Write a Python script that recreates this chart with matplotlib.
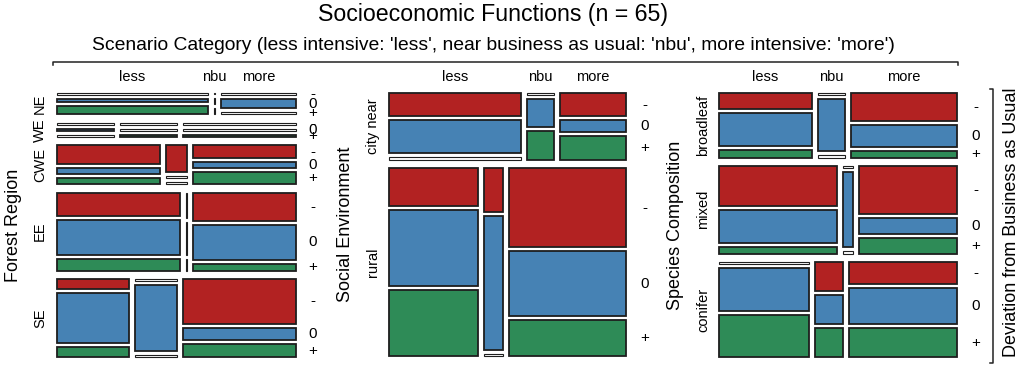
import numpy as np
import matplotlib
matplotlib.use("Agg")
import matplotlib.pyplot as plt
from matplotlib.patches import Rectangle

plt.rcParams['font.family'] = ['Liberation Sans', 'DejaVu Sans']

# ---------------- data ----------------
levels = ['-', '0', '+']
scenarios = ['less', 'nbu', 'more']

# counts per row x scenario (less, nbu, more) for each deviation level
forest_rows = ['NE', 'WE', 'CWE', 'EE', 'SE']
forest_neg = [[0, 0, 0], [0, 0, 0], [3, 1, 2], [4, 0, 4], [1, 0, 7]]
forest_zero = [[1, 0, 2], [1, 0, 0], [1, 0, 1], [6, 0, 5], [5, 4, 2]]
forest_pos = [[3, 0, 0], [0, 1, 2], [1, 0, 2], [2, 0, 1], [1, 0, 2]]

social_rows = ['city near', 'rural']
social_neg = [[4, 0, 2], [4, 1, 11]]
social_zero = [[6, 1, 1], [8, 3, 9]]
social_pos = [[0, 1, 2], [7, 0, 5]]

species_rows = ['broadleaf', 'mixed', 'conifer']
species_neg = [[2, 0, 4], [6, 0, 6], [0, 1, 3]]
species_zero = [[4, 2, 3], [5, 1, 2], [5, 1, 5]]
species_pos = [[1, 0, 1], [1, 0, 2], [5, 1, 4]]

colors = ['#B22222', '#4682B4', '#2E8B57']
EDGE = '#1e1e1e'

# ---------------- layout ----------------
W, H = 1024, 369
fig = plt.figure(figsize=(W / 100, H / 100), dpi=100)
ax = fig.add_axes([0, 0, 1, 1])
ax.set_xlim(0, W)
ax.set_ylim(H, 0)
ax.axis('off')

GR, GC, GL = 8.5, 6.0, 4.0   # gaps: rows, columns, levels
ZH = 2.3                      # size of zero cells (height)
ZW = 1.2                      # size of zero columns (width)


def mosaic(neg, zero, pos, rows, box, rowlab_x, rlab_x, title, title_x):
    x0, x1, y0, y1 = box
    counts = np.stack([np.array(neg), np.array(zero), np.array(pos)], axis=-1)
    nr, nc, nl = counts.shape
    total = counts.sum()
    row_tot = counts.sum(axis=(1, 2))
    havail = (y1 - y0) - (nr - 1) * GR
    y = y0
    for r in range(nr):
        h = havail * row_tot[r] / total
        col_tot = counts[r].sum(axis=1)
        nzc = int((col_tot == 0).sum())
        wavail = (x1 - x0) - (nc - 1) * GC - nzc * ZW
        x = x0
        for c in range(nc):
            if col_tot[c] == 0:
                w = ZW
                marg = counts[r].sum(axis=0) + 1.0
                lav = h - (nl - 1) * GL
                yy = y
                for l in range(nl):
                    hh = lav * marg[l] / marg.sum()
                    ax.add_patch(Rectangle((x, yy), w, hh, facecolor=EDGE,
                                           edgecolor=EDGE, lw=0.8))
                    yy += hh + GL
            else:
                w = wavail * col_tot[c] / row_tot[r]
                cnt = counts[r, c]
                nz = int((cnt == 0).sum())
                lav = h - (nl - 1) * GL - nz * ZH
                yy = y
                lev_centers = []
                for l in range(nl):
                    if cnt[l] == 0:
                        hh = ZH
                        ax.add_patch(Rectangle((x, yy), w, hh, facecolor='white',
                                               edgecolor=EDGE, lw=0.8))
                    else:
                        hh = lav * cnt[l] / col_tot[c]
                        ax.add_patch(Rectangle((x, yy), w, hh, facecolor=colors[l],
                                               edgecolor=EDGE, lw=1.3))
                    lev_centers.append(yy + hh / 2)
                    yy += hh + GL
                if c == nc - 1:
                    for l in range(nl):
                        ax.text(rlab_x, lev_centers[l], levels[l], ha='center',
                                va='center', fontsize=11)
            if r == 0:
                ax.text(x + w / 2, 77, scenarios[c], ha='center', va='center',
                        fontsize=10.5)
            x += w + GC
        ax.text(rowlab_x, y + h / 2, rows[r], rotation=90, ha='center',
                va='center', fontsize=10.5)
        y += h + GR
    ax.text(title_x, (y0 + y1) / 2, title, rotation=90, ha='center',
            va='center', fontsize=13)


mosaic(forest_neg, forest_zero, forest_pos, forest_rows, (57, 296, 93, 357),
       40, 313, 'Forest Region', 14)
mosaic(social_neg, social_zero, social_pos, social_rows, (389, 626, 93, 356),
       373, 645, 'Social Environment', 345)
mosaic(species_neg, species_zero, species_pos, species_rows, (719, 957, 93, 357),
       703, 976, 'Species Composition', 676)

# titles
ax.text(493, 15, 'Socioeconomic Functions (n = 65)', ha='center', va='center',
        fontsize=16.7)
ax.text(493, 45, "Scenario Category (less intensive: 'less', near business as usual: "
        "'nbu', more intensive: 'more')", ha='center', va='center', fontsize=13.9)

# brackets
ax.plot([53, 53, 958, 958], [65, 62, 62, 65], color='#222222', lw=1.1)
ax.plot([990, 993, 993, 990], [89, 89, 363, 363], color='#222222', lw=1.1)
ax.text(1011, 222, 'Deviation from Business as Usual', rotation=90,
        ha='center', va='center', fontsize=13)

fig.savefig('out.png', dpi=100)
